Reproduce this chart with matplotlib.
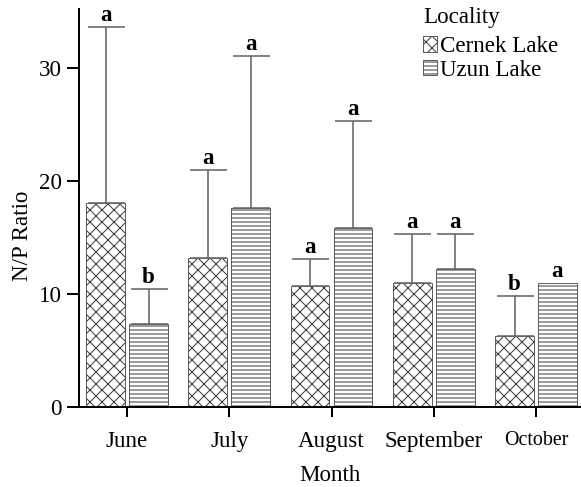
# N/P ratio by month for the two lakes, grouped hatched bars
import matplotlib
matplotlib.use("Agg")
import matplotlib.pyplot as plt
import numpy as np

months = ["June", "July", "August", "September", "October"]
cernek = [18.0, 13.2, 10.7, 11.0, 6.3]
cernek_err_top = [33.6, 21.0, 13.1, 15.3, 9.8]
uzun = [7.3, 17.6, 15.8, 12.2, 11.0]
uzun_err_top = [10.4, 31.0, 25.3, 15.3, None]
cernek_letters = ["a", "a", "a", "a", "b"]
uzun_letters = ["b", "a", "a", "a", "a"]

plt.rcParams["font.family"] = ["Liberation Serif", "DejaVu Serif"]
plt.rcParams["font.size"] = 23
plt.rcParams["hatch.linewidth"] = 1.0

DPI = 72
fig = plt.figure(figsize=(581 / DPI, 487 / DPI), dpi=DPI)
ax = fig.add_axes([79 / 581, 80 / 487, 502 / 581, 398 / 487])

x = np.arange(len(months))
w = 0.38
off = 0.21


def draw_group(xpos, vals, tops, letters, hatch, label):
    ax.bar(xpos, vals, width=w, color="white", edgecolor="#3a3a3a",
           linewidth=0.8, hatch=hatch, label=label, zorder=2)
    for xi, v, t, let in zip(xpos, vals, tops, letters):
        if t is not None:
            ax.errorbar(xi, v, yerr=[[0], [t - v]], fmt="none",
                        ecolor="#666666", elinewidth=1.6, capsize=18.5,
                        capthick=1.6, zorder=3)
            y = t
        else:
            y = v
        ax.annotate(let, (xi, y), xytext=(0, 1), textcoords="offset points",
                    ha="center", va="bottom", fontweight="bold", fontsize=23)


draw_group(x - off, cernek, cernek_err_top, cernek_letters, "xx", "Cernek Lake")
draw_group(x + off, uzun, uzun_err_top, uzun_letters, "---", "Uzun Lake")

ax.set_xlim(-0.47, 4.44)
ax.set_ylim(0, 35.2)
ax.set_yticks([0, 10, 20, 30])
ax.set_xticks(x)
ax.set_xticklabels(months)
ax.get_xticklabels()[-1].set_fontsize(20)

for s in ["top", "right"]:
    ax.spines[s].set_visible(False)
for s in ["left", "bottom"]:
    ax.spines[s].set_linewidth(2)
ax.tick_params(axis="y", length=12, width=2, pad=5)
ax.tick_params(axis="x", length=10, width=2, pad=14)

ax.set_xlabel("Month", labelpad=13)
ax.set_ylabel("N/P Ratio")
ax.yaxis.set_label_coords(-0.092, 0.43)

leg = ax.legend(loc="upper left", bbox_to_anchor=(0.685, 1.005), frameon=False,
                title="Locality", alignment="left", borderpad=0,
                handlelength=0.6, handleheight=0.65, handletextpad=0.15,
                labelspacing=0.12, borderaxespad=0)
leg.get_title().set_fontsize(23)
leg._legend_box.sep = 8

fig.savefig("out.png", dpi=DPI)
